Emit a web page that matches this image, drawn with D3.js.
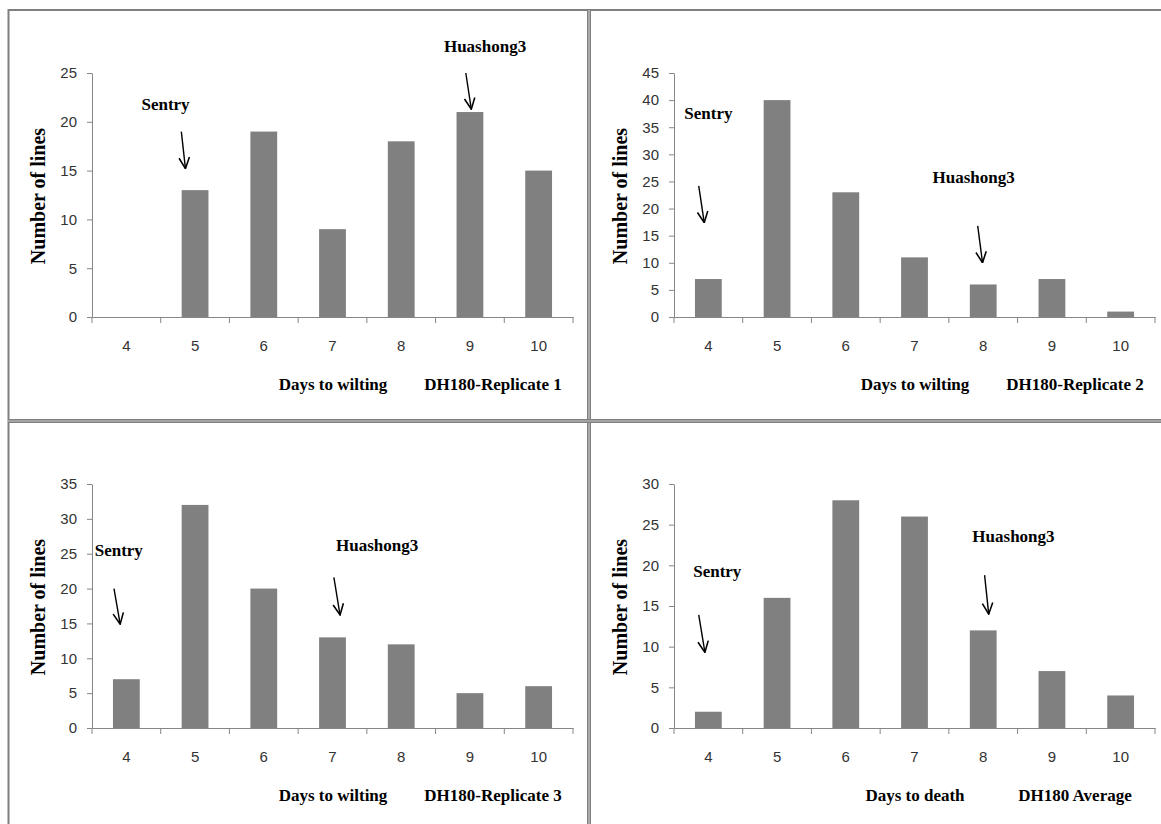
<!DOCTYPE html>
<html>
<head>
<meta charset="utf-8">
<script src="https://cdn.jsdelivr.net/npm/d3@7"></script>
<style>
  body { margin: 0; background: #fff; }
  svg { display: block; }
</style>
</head>
<body>
<div id="chart"></div>
<script>
// categories (days)
const days = [4, 5, 6, 7, 8, 9, 10];

// number of lines per day, one array per panel
const rep1 = [0, 13, 19, 9, 18, 21, 15];
const rep2 = [7, 40, 23, 11, 6, 7, 1];
const rep3 = [7, 32, 20, 13, 12, 5, 6];
const average = [2, 16, 28, 26, 12, 7, 4];

// y axis maxima (ticks every 5)
const yMaxes = [25, 45, 35, 30];

const xTitles = ["Days to wilting", "Days to wilting", "Days to wilting", "Days to death"];
const panelNames = ["DH180-Replicate 1", "DH180-Replicate 2", "DH180-Replicate 3", "DH180 Average"];

// annotations in data units: label at (x, y), arrow from (x1, y1) to (x2, y2); x in days
const annotations = [
  {panel: 0, text: "Sentry",    x: 4.57, y: 21.6, x1: 4.80, y1: 19.0, x2: 4.86, y2: 15.2},
  {panel: 0, text: "Huashong3", x: 9.22, y: 27.6, x1: 8.94, y1: 25.0, x2: 9.02, y2: 21.3},
  {panel: 1, text: "Sentry",    x: 4.00, y: 37.3, x1: 3.86, y1: 24.2, x2: 3.94, y2: 17.4},
  {panel: 1, text: "Huashong3", x: 7.86, y: 25.5, x1: 7.92, y1: 16.8, x2: 7.99, y2: 10.0},
  {panel: 2, text: "Sentry",    x: 3.89, y: 25.2, x1: 3.82, y1: 20.0, x2: 3.91, y2: 14.9},
  {panel: 2, text: "Huashong3", x: 7.65, y: 25.9, x1: 7.02, y1: 21.6, x2: 7.11, y2: 16.2},
  {panel: 3, text: "Sentry",    x: 4.13, y: 19.0, x1: 3.86, y1: 13.9, x2: 3.95, y2: 9.3},
  {panel: 3, text: "Huashong3", x: 8.44, y: 23.4, x1: 8.02, y1: 18.8, x2: 8.08, y2: 14.0}
];

const series = [rep1, rep2, rep3, average];

const W = 1161, H = 824;
const panelOrigins = [[0, 0], [582, 0], [0, 411], [582, 411]];
const margin = {top: 73, left: 92},
  width = 481,
  height = 244;

const serif = "'Liberation Serif', 'Times New Roman', serif";
const sans = "'Liberation Sans', Arial, sans-serif";
const axisColor = "#868686";
const barColor = "#808080";

const svg = d3.select("#chart")
  .append("svg")
  .attr("width", W)
  .attr("height", H);

svg.append("rect")
  .attr("width", W)
  .attr("height", H)
  .attr("fill", "#fff");

// arrow head
svg.append("defs")
  .append("marker")
  .attr("id", "arrow")
  .attr("viewBox", "0 0 10 10")
  .attr("refX", 9.5)
  .attr("refY", 5)
  .attr("markerWidth", 13)
  .attr("markerHeight", 13)
  .attr("markerUnits", "userSpaceOnUse")
  .attr("orient", "auto")
  .append("path")
  .attr("d", "M1,1 L9.5,5 L1,9")
  .attr("fill", "none")
  .attr("stroke", "#000")
  .attr("stroke-width", 1.2);

series.forEach((values, i) => {
  const [ox, oy] = panelOrigins[i];
  const data = days.map((d, j) => ({day: d, value: values[j]}));

  const g = svg.append("g")
    .attr("transform", `translate(${ox + margin.left},${oy + margin.top})`);

  const x = d3.scaleBand()
    .domain(days)
    .range([0, width])
    .paddingInner(0)
    .paddingOuter(0);

  const y = d3.scaleLinear()
    .domain([0, yMaxes[i]])
    .range([height, 0]);

  // fractional day position (band centre)
  const xPos = v => x(days[0]) + (v - days[0] + 0.5) * x.step();

  // bars
  g.selectAll(".bar")
    .data(data)
    .join("rect")
    .attr("class", "bar")
    .attr("x", d => x(d.day) + x.bandwidth() * 0.305)
    .attr("width", x.bandwidth() * 0.39)
    .attr("y", d => y(d.value))
    .attr("height", d => height - y(d.value))
    .attr("fill", barColor);

  // y axis
  const yAxis = g.append("g")
    .call(d3.axisLeft(y)
      .tickValues(d3.range(0, yMaxes[i] + 1, 5))
      .tickSize(5)
      .tickSizeOuter(0)
      .tickPadding(10));
  yAxis.select(".domain").attr("stroke", axisColor);
  yAxis.selectAll(".tick line").attr("stroke", axisColor);
  yAxis.selectAll(".tick text")
    .attr("font-family", sans)
    .attr("font-size", "15px")
    .attr("fill", "#333");

  // x axis labels at band centres
  const xAxis = g.append("g")
    .attr("transform", `translate(0,${height})`)
    .call(d3.axisBottom(x).tickSize(0).tickPadding(23));
  xAxis.select(".domain").attr("stroke", axisColor);
  xAxis.selectAll(".tick text")
    .attr("font-family", sans)
    .attr("font-size", "15px")
    .attr("fill", "#333");

  // boundary ticks between categories
  const bounds = days.map(d => x(d)).concat([x.range()[1]]);
  g.append("g")
    .selectAll("line")
    .data(bounds)
    .join("line")
    .attr("x1", d => d)
    .attr("x2", d => d)
    .attr("y1", height)
    .attr("y2", height + 6)
    .attr("stroke", axisColor);

  // y title
  g.append("text")
    .attr("transform", `translate(${40 - margin.left},${196 - margin.top}) rotate(-90)`)
    .attr("text-anchor", "middle")
    .attr("dominant-baseline", "middle")
    .attr("font-family", serif)
    .attr("font-weight", "bold")
    .attr("font-size", "20px")
    .attr("fill", "#000")
    .text("Number of lines");

  // x title and panel name
  g.append("text")
    .attr("x", 333 - margin.left)
    .attr("y", 386 - margin.top)
    .attr("text-anchor", "middle")
    .attr("dominant-baseline", "middle")
    .attr("font-family", serif)
    .attr("font-weight", "bold")
    .attr("font-size", "17px")
    .attr("fill", "#000")
    .text(xTitles[i]);

  g.append("text")
    .attr("x", 493 - margin.left)
    .attr("y", 386 - margin.top)
    .attr("text-anchor", "middle")
    .attr("dominant-baseline", "middle")
    .attr("font-family", serif)
    .attr("font-weight", "bold")
    .attr("font-size", "17px")
    .attr("fill", "#000")
    .text(panelNames[i]);

  // annotations
  const ann = annotations.filter(a => a.panel === i);
  g.selectAll(".ann-label")
    .data(ann)
    .join("text")
    .attr("class", "ann-label")
    .attr("x", d => xPos(d.x))
    .attr("y", d => y(d.y))
    .attr("text-anchor", "middle")
    .attr("dominant-baseline", "middle")
    .attr("font-family", serif)
    .attr("font-weight", "bold")
    .attr("font-size", "17px")
    .attr("fill", "#000")
    .text(d => d.text);

  g.selectAll(".ann-arrow")
    .data(ann)
    .join("line")
    .attr("class", "ann-arrow")
    .attr("x1", d => xPos(d.x1))
    .attr("y1", d => y(d.y1))
    .attr("x2", d => xPos(d.x2))
    .attr("y2", d => y(d.y2))
    .attr("stroke", "#000")
    .attr("stroke-width", 1.4)
    .attr("marker-end", "url(#arrow)");
});

// panel frame lines
const frame = svg.append("g");
frame.append("line")
  .attr("x1", 8.5).attr("x2", 8.5).attr("y1", 9).attr("y2", H)
  .attr("stroke", "#7f7f7f").attr("stroke-width", 2);
frame.append("line")
  .attr("x1", 8).attr("x2", W).attr("y1", 10).attr("y2", 10)
  .attr("stroke", "#7f7f7f").attr("stroke-width", 2);
[[589, 10, 589, H], [8, 421, W, 421]].forEach(([x1, y1, x2, y2]) => {
  frame.append("line")
    .attr("x1", x1).attr("y1", y1).attr("x2", x2).attr("y2", y2)
    .attr("stroke", "#7f7f7f").attr("stroke-width", 4);
  frame.append("line")
    .attr("x1", x1).attr("y1", y1).attr("x2", x2).attr("y2", y2)
    .attr("stroke", "#c8c8c8").attr("stroke-width", 1.2);
});
</script>
</body>
</html>
